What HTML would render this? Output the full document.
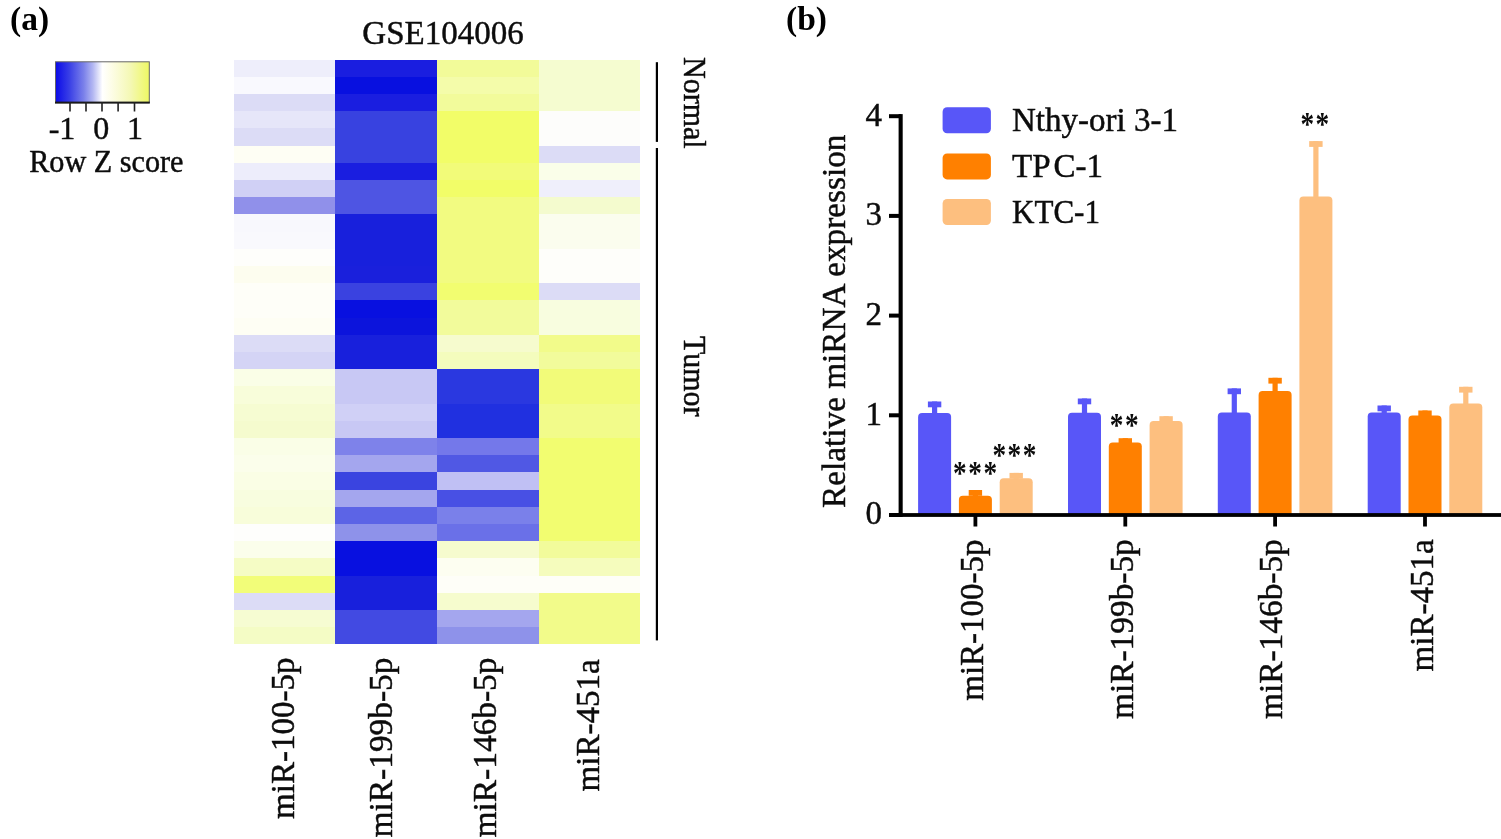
<!DOCTYPE html>
<html><head><meta charset="utf-8"><title>Figure</title>
<style>
html,body{margin:0;padding:0;background:#fff;}
body{width:1501px;height:839px;overflow:hidden;}
svg{display:block;}
text{font-family:"Liberation Serif","Times New Roman",serif;fill:#0c0c0c;stroke:#0c0c0c;stroke-width:0.45px;}
.nb,.ast text{stroke:none;}
</style></head><body>
<svg width="1501" height="839" viewBox="0 0 1501 839">
<defs>
<linearGradient id="lg" x1="0" x2="1" y1="0" y2="0">
<stop offset="0" stop-color="#0a0ae8"/>
<stop offset="0.15" stop-color="#3a40e6"/>
<stop offset="0.3" stop-color="#7a80ea"/>
<stop offset="0.4" stop-color="#b4b8f2"/>
<stop offset="0.5" stop-color="#ffffff"/>
<stop offset="0.6" stop-color="#fdfde6"/>
<stop offset="0.8" stop-color="#f4f8b4"/>
<stop offset="1" stop-color="#eef862"/>
</linearGradient>
</defs>
<!-- panel a -->
<text x="10" y="29.5" font-size="33.5" font-weight="bold" class="nb" style="fill:#000">(a)</text>
<rect x="55.5" y="61.8" width="93.8" height="40.8" fill="url(#lg)" stroke="#666" stroke-width="1"/>
<rect x="55" y="101.6" width="94.8" height="2" fill="#1a1a1a"/>
<g fill="#222">
<rect x="69.2" y="102" width="1.6" height="9.5"/>
<rect x="85.2" y="102" width="1.6" height="9.5"/>
<rect x="101.2" y="102" width="1.6" height="9.5"/>
<rect x="117.3" y="102" width="1.6" height="9.5"/>
<rect x="133.7" y="102" width="1.6" height="9.5"/>
</g>
<g font-size="32" text-anchor="middle">
<text x="62" y="138.6">-1</text>
<text x="101.3" y="138.6">0</text>
<text x="135" y="138.6">1</text>
</g>
<text transform="translate(29.2,171.5) scale(1,1.06)" font-size="30.2">Row Z score</text>
<text x="443" y="44.3" font-size="33" text-anchor="middle">GSE104006</text>
<g shape-rendering="crispEdges"><rect x="234" y="60" width="101" height="17" fill="#eeeefb"/>
<rect x="335" y="60" width="102" height="17" fill="#1a1ee0"/>
<rect x="437" y="60" width="102" height="17" fill="#f2fb99"/>
<rect x="539" y="60" width="101" height="17" fill="#f5fcd0"/>
<rect x="234" y="77" width="101" height="17" fill="#f9f9fe"/>
<rect x="335" y="77" width="102" height="17" fill="#0810e0"/>
<rect x="437" y="77" width="102" height="17" fill="#f4fcaa"/>
<rect x="539" y="77" width="101" height="17" fill="#f5fcd0"/>
<rect x="234" y="94" width="101" height="17" fill="#dcdcf6"/>
<rect x="335" y="94" width="102" height="17" fill="#1a1ee0"/>
<rect x="437" y="94" width="102" height="17" fill="#f2fb9b"/>
<rect x="539" y="94" width="101" height="17" fill="#f5fcd0"/>
<rect x="234" y="111" width="101" height="17" fill="#e6e6f9"/>
<rect x="335" y="111" width="102" height="17" fill="#3842e0"/>
<rect x="437" y="111" width="102" height="17" fill="#f2fd68"/>
<rect x="539" y="111" width="101" height="17" fill="#fdfdfb"/>
<rect x="234" y="128" width="101" height="18" fill="#dcdcf6"/>
<rect x="335" y="128" width="102" height="18" fill="#3842e0"/>
<rect x="437" y="128" width="102" height="18" fill="#f2fd68"/>
<rect x="539" y="128" width="101" height="18" fill="#fdfdfb"/>
<rect x="234" y="146" width="101" height="17" fill="#fefef4"/>
<rect x="335" y="146" width="102" height="17" fill="#3842e0"/>
<rect x="437" y="146" width="102" height="17" fill="#f2fd68"/>
<rect x="539" y="146" width="101" height="17" fill="#dcdcf6"/>
<rect x="234" y="163" width="101" height="17" fill="#ededfb"/>
<rect x="335" y="163" width="102" height="17" fill="#1a1ee0"/>
<rect x="437" y="163" width="102" height="17" fill="#f2fb79"/>
<rect x="539" y="163" width="101" height="17" fill="#fafee9"/>
<rect x="234" y="180" width="101" height="17" fill="#d0d0f5"/>
<rect x="335" y="180" width="102" height="17" fill="#4e55e3"/>
<rect x="437" y="180" width="102" height="17" fill="#f2fd68"/>
<rect x="539" y="180" width="101" height="17" fill="#efeffb"/>
<rect x="234" y="197" width="101" height="17" fill="#9090ea"/>
<rect x="335" y="197" width="102" height="17" fill="#4e55e3"/>
<rect x="437" y="197" width="102" height="17" fill="#f2fb81"/>
<rect x="539" y="197" width="101" height="17" fill="#f4fbce"/>
<rect x="234" y="214" width="101" height="18" fill="#f8f8fd"/>
<rect x="335" y="214" width="102" height="18" fill="#1820dc"/>
<rect x="437" y="214" width="102" height="18" fill="#f2fb81"/>
<rect x="539" y="214" width="101" height="18" fill="#fbfdee"/>
<rect x="234" y="232" width="101" height="17" fill="#f9f9fd"/>
<rect x="335" y="232" width="102" height="17" fill="#1820dc"/>
<rect x="437" y="232" width="102" height="17" fill="#f2fb81"/>
<rect x="539" y="232" width="101" height="17" fill="#fbfdee"/>
<rect x="234" y="249" width="101" height="17" fill="#fefefb"/>
<rect x="335" y="249" width="102" height="17" fill="#1820dc"/>
<rect x="437" y="249" width="102" height="17" fill="#f2fb81"/>
<rect x="539" y="249" width="101" height="17" fill="#fefefa"/>
<rect x="234" y="266" width="101" height="17" fill="#fdfdef"/>
<rect x="335" y="266" width="102" height="17" fill="#1a20dc"/>
<rect x="437" y="266" width="102" height="17" fill="#f2fb81"/>
<rect x="539" y="266" width="101" height="17" fill="#fefefa"/>
<rect x="234" y="283" width="101" height="17" fill="#fefef8"/>
<rect x="335" y="283" width="102" height="17" fill="#3a42e0"/>
<rect x="437" y="283" width="102" height="17" fill="#f2fd70"/>
<rect x="539" y="283" width="101" height="17" fill="#dcdcf6"/>
<rect x="234" y="300" width="101" height="18" fill="#fefef8"/>
<rect x="335" y="300" width="102" height="18" fill="#0810e0"/>
<rect x="437" y="300" width="102" height="18" fill="#f2fb9b"/>
<rect x="539" y="300" width="101" height="18" fill="#f8fddf"/>
<rect x="234" y="318" width="101" height="17" fill="#fefef4"/>
<rect x="335" y="318" width="102" height="17" fill="#0c14dc"/>
<rect x="437" y="318" width="102" height="17" fill="#f2fb9b"/>
<rect x="539" y="318" width="101" height="17" fill="#f8fddf"/>
<rect x="234" y="335" width="101" height="17" fill="#dcdcf6"/>
<rect x="335" y="335" width="102" height="17" fill="#1820dc"/>
<rect x="437" y="335" width="102" height="17" fill="#f6fbce"/>
<rect x="539" y="335" width="101" height="17" fill="#f2fb8a"/>
<rect x="234" y="352" width="101" height="17" fill="#d4d4f5"/>
<rect x="335" y="352" width="102" height="17" fill="#1820dc"/>
<rect x="437" y="352" width="102" height="17" fill="#f4fcbd"/>
<rect x="539" y="352" width="101" height="17" fill="#f2fb9b"/>
<rect x="234" y="369" width="101" height="17" fill="#fafee7"/>
<rect x="335" y="369" width="102" height="17" fill="#c8c8f4"/>
<rect x="437" y="369" width="102" height="17" fill="#2a38e0"/>
<rect x="539" y="369" width="101" height="17" fill="#f2fb79"/>
<rect x="234" y="386" width="101" height="18" fill="#f8fdda"/>
<rect x="335" y="386" width="102" height="18" fill="#c8c8f4"/>
<rect x="437" y="386" width="102" height="18" fill="#2a38e0"/>
<rect x="539" y="386" width="101" height="18" fill="#f2fb79"/>
<rect x="234" y="404" width="101" height="17" fill="#f6fcd2"/>
<rect x="335" y="404" width="102" height="17" fill="#d0d0f6"/>
<rect x="437" y="404" width="102" height="17" fill="#2030e0"/>
<rect x="539" y="404" width="101" height="17" fill="#f2fb8a"/>
<rect x="234" y="421" width="101" height="17" fill="#f5fbce"/>
<rect x="335" y="421" width="102" height="17" fill="#c8c8f4"/>
<rect x="437" y="421" width="102" height="17" fill="#2030e0"/>
<rect x="539" y="421" width="101" height="17" fill="#f2fb8a"/>
<rect x="234" y="438" width="101" height="17" fill="#fafee7"/>
<rect x="335" y="438" width="102" height="17" fill="#7e82ea"/>
<rect x="437" y="438" width="102" height="17" fill="#7478ea"/>
<rect x="539" y="438" width="101" height="17" fill="#f2fd70"/>
<rect x="234" y="455" width="101" height="17" fill="#fbfeeb"/>
<rect x="335" y="455" width="102" height="17" fill="#a4a6ee"/>
<rect x="437" y="455" width="102" height="17" fill="#5058e4"/>
<rect x="539" y="455" width="101" height="17" fill="#f2fd70"/>
<rect x="234" y="472" width="101" height="18" fill="#fafee5"/>
<rect x="335" y="472" width="102" height="18" fill="#3a44e0"/>
<rect x="437" y="472" width="102" height="18" fill="#c0c0f4"/>
<rect x="539" y="472" width="101" height="18" fill="#f2fd70"/>
<rect x="234" y="490" width="101" height="17" fill="#f8fddf"/>
<rect x="335" y="490" width="102" height="17" fill="#a4a6ee"/>
<rect x="437" y="490" width="102" height="17" fill="#4850e4"/>
<rect x="539" y="490" width="101" height="17" fill="#f2fd70"/>
<rect x="234" y="507" width="101" height="17" fill="#f8fdda"/>
<rect x="335" y="507" width="102" height="17" fill="#5c64e6"/>
<rect x="437" y="507" width="102" height="17" fill="#7a80ea"/>
<rect x="539" y="507" width="101" height="17" fill="#f2fd70"/>
<rect x="234" y="524" width="101" height="17" fill="#fefefc"/>
<rect x="335" y="524" width="102" height="17" fill="#8e92ea"/>
<rect x="437" y="524" width="102" height="17" fill="#6a70e8"/>
<rect x="539" y="524" width="101" height="17" fill="#f2fd70"/>
<rect x="234" y="541" width="101" height="17" fill="#fbfeeb"/>
<rect x="335" y="541" width="102" height="17" fill="#0810e0"/>
<rect x="437" y="541" width="102" height="17" fill="#f6fbce"/>
<rect x="539" y="541" width="101" height="17" fill="#f2fb9b"/>
<rect x="234" y="558" width="101" height="18" fill="#f5fcc5"/>
<rect x="335" y="558" width="102" height="18" fill="#0810e0"/>
<rect x="437" y="558" width="102" height="18" fill="#fdfef1"/>
<rect x="539" y="558" width="101" height="18" fill="#f5fcbd"/>
<rect x="234" y="576" width="101" height="17" fill="#f2fd79"/>
<rect x="335" y="576" width="102" height="17" fill="#1820dc"/>
<rect x="437" y="576" width="102" height="17" fill="#fefef8"/>
<rect x="539" y="576" width="101" height="17" fill="#fefef8"/>
<rect x="234" y="593" width="101" height="17" fill="#dcdcf6"/>
<rect x="335" y="593" width="102" height="17" fill="#1820dc"/>
<rect x="437" y="593" width="102" height="17" fill="#f6fcce"/>
<rect x="539" y="593" width="101" height="17" fill="#f2fb8a"/>
<rect x="234" y="610" width="101" height="17" fill="#f6fcd2"/>
<rect x="335" y="610" width="102" height="17" fill="#424ae2"/>
<rect x="437" y="610" width="102" height="17" fill="#a4a6ee"/>
<rect x="539" y="610" width="101" height="17" fill="#f2fb8a"/>
<rect x="234" y="627" width="101" height="17" fill="#f4fcc5"/>
<rect x="335" y="627" width="102" height="17" fill="#424ae2"/>
<rect x="437" y="627" width="102" height="17" fill="#8e92ea"/>
<rect x="539" y="627" width="101" height="17" fill="#f2fb8a"/></g>
<rect x="655.8" y="62.2" width="2.2" height="79.7" fill="#000"/>
<rect x="655.8" y="148" width="2.2" height="492.4" fill="#000"/>
<text transform="translate(683.8,57) rotate(90) scale(1,1.06)" font-size="30">Normal</text>
<text transform="translate(683.8,336) rotate(90) scale(1,1.06)" font-size="30">Tumor</text>
<g font-size="33" text-anchor="end">
<text transform="translate(294,657.6) rotate(-90)">miR-100-5p</text>
<text transform="translate(392.2,657.6) rotate(-90)" textLength="179.8" lengthAdjust="spacingAndGlyphs">miR-199b-5p</text>
<text transform="translate(495.6,657.6) rotate(-90)" textLength="179.8" lengthAdjust="spacingAndGlyphs">miR-146b-5p</text>
<text transform="translate(599,659.4) rotate(-90)">miR-451a</text>
</g>
<!-- panel b -->
<text x="786" y="30" font-size="33.5" font-weight="bold" class="nb" style="fill:#000">(b)</text>
<path d="M918.1,514.1 V417.0 Q918.1,413.0 922.1,413.0 H947.1 Q951.1,413.0 951.1,417.0 V514.1 Z" fill="#5856f8"/>
<rect x="932.0" y="401.5" width="5.2" height="12.5" fill="#5856f8"/>
<rect x="927.9" y="401.5" width="13.4" height="5.8" fill="#5856f8"/>
<path d="M958.9,514.1 V499.8 Q958.9,495.8 962.9,495.8 H987.9 Q991.9,495.8 991.9,499.8 V514.1 Z" fill="#ff8000"/>
<rect x="972.8" y="490.0" width="5.2" height="6.8" fill="#ff8000"/>
<rect x="968.7" y="490.0" width="13.4" height="5.8" fill="#ff8000"/>
<path d="M999.7,514.1 V482.2 Q999.7,478.2 1003.7,478.2 H1028.7 Q1032.7,478.2 1032.7,482.2 V514.1 Z" fill="#fdbf7f"/>
<rect x="1013.6" y="472.9" width="5.2" height="6.3" fill="#fdbf7f"/>
<rect x="1009.5" y="472.9" width="13.4" height="5.8" fill="#fdbf7f"/>
<path d="M1068.0,514.1 V416.8 Q1068.0,412.8 1072.0,412.8 H1097.0 Q1101.0,412.8 1101.0,416.8 V514.1 Z" fill="#5856f8"/>
<rect x="1081.9" y="398.5" width="5.2" height="15.3" fill="#5856f8"/>
<rect x="1077.8" y="398.5" width="13.4" height="5.8" fill="#5856f8"/>
<path d="M1108.8,514.1 V446.5 Q1108.8,442.5 1112.8,442.5 H1137.8 Q1141.8,442.5 1141.8,446.5 V514.1 Z" fill="#ff8000"/>
<rect x="1122.7" y="438.2" width="5.2" height="5.3" fill="#ff8000"/>
<rect x="1118.6" y="438.2" width="13.4" height="5.8" fill="#ff8000"/>
<path d="M1149.6,514.1 V425.0 Q1149.6,421.0 1153.6,421.0 H1178.6 Q1182.6,421.0 1182.6,425.0 V514.1 Z" fill="#fdbf7f"/>
<rect x="1163.5" y="416.2" width="5.2" height="5.8" fill="#fdbf7f"/>
<rect x="1159.4" y="416.2" width="13.4" height="5.8" fill="#fdbf7f"/>
<path d="M1217.8,514.1 V416.4 Q1217.8,412.4 1221.8,412.4 H1246.8 Q1250.8,412.4 1250.8,416.4 V514.1 Z" fill="#5856f8"/>
<rect x="1231.7" y="388.4" width="5.2" height="25.0" fill="#5856f8"/>
<rect x="1227.6" y="388.4" width="13.4" height="5.8" fill="#5856f8"/>
<path d="M1258.6,514.1 V394.9 Q1258.6,390.9 1262.6,390.9 H1287.6 Q1291.6,390.9 1291.6,394.9 V514.1 Z" fill="#ff8000"/>
<rect x="1272.5" y="377.8" width="5.2" height="14.1" fill="#ff8000"/>
<rect x="1268.4" y="377.8" width="13.4" height="5.8" fill="#ff8000"/>
<path d="M1299.4,514.1 V200.6 Q1299.4,196.6 1303.4,196.6 H1328.4 Q1332.4,196.6 1332.4,200.6 V514.1 Z" fill="#fdbf7f"/>
<rect x="1313.3" y="141.1" width="5.2" height="56.5" fill="#fdbf7f"/>
<rect x="1309.2" y="141.1" width="13.4" height="5.8" fill="#fdbf7f"/>
<path d="M1367.7,514.1 V416.6 Q1367.7,412.6 1371.7,412.6 H1396.7 Q1400.7,412.6 1400.7,416.6 V514.1 Z" fill="#5856f8"/>
<rect x="1381.6" y="405.5" width="5.2" height="8.1" fill="#5856f8"/>
<rect x="1377.5" y="405.5" width="13.4" height="5.8" fill="#5856f8"/>
<path d="M1408.5,514.1 V419.4 Q1408.5,415.4 1412.5,415.4 H1437.5 Q1441.5,415.4 1441.5,419.4 V514.1 Z" fill="#ff8000"/>
<rect x="1422.4" y="410.5" width="5.2" height="5.9" fill="#ff8000"/>
<rect x="1418.3" y="410.5" width="13.4" height="5.8" fill="#ff8000"/>
<path d="M1449.3,514.1 V407.6 Q1449.3,403.6 1453.3,403.6 H1478.3 Q1482.3,403.6 1482.3,407.6 V514.1 Z" fill="#fdbf7f"/>
<rect x="1463.2" y="386.8" width="5.2" height="17.8" fill="#fdbf7f"/>
<rect x="1459.1" y="386.8" width="13.4" height="5.8" fill="#fdbf7f"/>
<rect x="898.6" y="114.1" width="4.1" height="402.8" fill="#000"/>
<rect x="889" y="513.1" width="612" height="3.8" fill="#000"/>
<rect x="973.5" y="515" width="3.8" height="11.5" fill="#000"/>
<rect x="1123.4" y="515" width="3.8" height="11.5" fill="#000"/>
<rect x="1273.2" y="515" width="3.8" height="11.5" fill="#000"/>
<rect x="1423.1" y="515" width="3.8" height="11.5" fill="#000"/>
<rect x="889" y="513.0" width="12" height="4" fill="#000"/>
<rect x="889" y="413.3" width="12" height="4" fill="#000"/>
<rect x="889" y="313.6" width="12" height="4" fill="#000"/>
<rect x="889" y="213.9" width="12" height="4" fill="#000"/>
<rect x="889" y="114.2" width="12" height="4" fill="#000"/>
<g font-size="33" text-anchor="end">
<text x="882" y="125.5">4</text>
<text x="882" y="225.2">3</text>
<text x="882" y="324.9">2</text>
<text x="882" y="424.6">1</text>
<text x="882" y="524.3">0</text>
</g>
<text transform="translate(844.8,508) rotate(-90)" font-size="33" textLength="373.5" lengthAdjust="spacingAndGlyphs">Relative miRNA expression</text>
<g font-size="33" text-anchor="end">
<text transform="translate(983.4,539.4) rotate(-90)">miR-100-5p</text>
<text transform="translate(1133.3,539.2) rotate(-90)" textLength="179.8" lengthAdjust="spacingAndGlyphs">miR-199b-5p</text>
<text transform="translate(1281.8,539.2) rotate(-90)" textLength="179.8" lengthAdjust="spacingAndGlyphs">miR-146b-5p</text>
<text transform="translate(1433,539.4) rotate(-90)">miR-451a</text>
</g>
<rect x="942.6" y="107.2" width="48.3" height="26" rx="4.5" fill="#5856f8"/>
<rect x="942.6" y="153.4" width="48.3" height="26" rx="4.5" fill="#ff8000"/>
<rect x="942.6" y="199" width="48.3" height="26" rx="4.5" fill="#fdbf7f"/>
<g font-size="33">
<text x="1012" y="131">Nthy-ori 3-1</text>
<text x="1012" y="177">TP<tspan dx="3">C-1</tspan></text>
<text x="1012" y="223" textLength="88" lengthAdjust="spacingAndGlyphs">KTC-1</text>
</g>
<g font-size="33.5" font-weight="bold" class="ast" style="fill:#000;letter-spacing:1.9px">
<text transform="translate(953,484.2) scale(0.815,1)">***</text>
<text transform="translate(992.4,465.7) scale(0.815,1)">***</text>
<text transform="translate(1109.8,436) scale(0.815,1)">**</text>
<text transform="translate(1300.4,135) scale(0.815,1)">**</text>
</g>
</svg>
</body></html>
